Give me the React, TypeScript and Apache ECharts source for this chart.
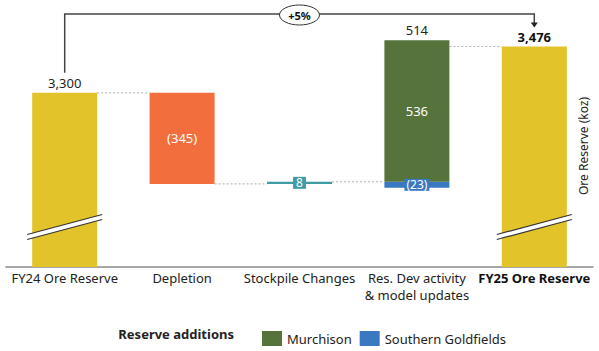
import React, { useEffect, useRef } from "react";
import * as echarts from "echarts";

const categories = [
  "FY24 Ore Reserve",
  "Depletion",
  "Stockpile Changes",
  "Res. Dev activity\n& model updates",
  "FY25 Ore Reserve",
];
const openingReserve = 3300;
const depletion = -345;
const stockpileChange = 8;
const murchisonAdd = 536;
const southernAdd = -23;
const resDevNetReported = 514;
const closingReserve = 3476;

const YELLOW = "#E3C32A";
const ORANGE = "#F26F3D";
const TEAL = "#3F9CA3";
const GREEN = "#55733A";
const BLUE = "#3A79C2";
const FONT = "'Noto Sans', sans-serif";

const fmt = (v: number) => {
  const s = Math.abs(v).toLocaleString("en-US");
  return v < 0 ? `(${s})` : s;
};

export default function App() {
  const ref = useRef<HTMLDivElement>(null);

  useEffect(() => {
    if (!ref.current) return;
    const chart = echarts.init(ref.current, null, { renderer: "svg" });

    const afterDepletion = openingReserve + depletion;
    const afterStockpile = afterDepletion + stockpileChange;
    const southernBase = afterStockpile + Math.min(southernAdd, 0);

    const base = [null, afterDepletion, afterDepletion, southernBase, null];
    const totals = [openingReserve, null, null, null, closingReserve];
    const dep = [null, -depletion, null, null, null];
    const stock = [null, null, stockpileChange, null, null];
    const south = [null, null, null, -southernAdd, null];
    const murch = [null, null, null, murchisonAdd, null];
    const netTop = [null, null, null, 0, null];

    const BW = 65;
    const yMin = 2640;
    const yMax = 3580;

    chart.setOption({
      animation: false,
      textStyle: { fontFamily: FONT },
      grid: { left: 6, right: 6, top: 19, bottom: 84 },
      xAxis: {
        type: "category",
        data: categories,
        axisTick: { show: false },
        axisLine: { lineStyle: { color: "#8a8a8a", width: 1.5 } },
        axisLabel: {
          interval: 0,
          margin: 2,
          color: "#222",
          fontSize: 13,
          lineHeight: 17,
          fontFamily: FONT,
          formatter: (v: string, i: number) => (i === 4 ? `{b|${v}}` : v),
          rich: { b: { fontWeight: "bold", fontSize: 13, lineHeight: 17, color: "#111", fontFamily: FONT } },
        },
      },
      yAxis: {
        type: "value",
        min: yMin,
        max: yMax,
        show: false,
        splitLine: { show: false },
      },
      legend: {
        data: ["Murchison", "Southern Goldfields"],
        left: 257,
        top: 326,
        itemWidth: 20,
        itemHeight: 15,
        itemGap: 8,
        icon: "rect",
        textStyle: { fontSize: 13, color: "#222", fontFamily: FONT },
      },
      series: [
        {
          name: "base",
          type: "bar",
          stack: "w",
          barWidth: BW,
          data: base,
          itemStyle: { color: "transparent" },
          silent: true,
        },
        {
          name: "Total",
          type: "bar",
          stack: "w",
          barWidth: BW,
          data: totals,
          itemStyle: { color: YELLOW },
          label: {
            show: true,
            position: "top",
            distance: 3,
            fontSize: 13,
            color: "#222",
            fontFamily: FONT,
            formatter: (p: any) => (p.dataIndex === 4 ? `{b|${fmt(p.value)}}` : fmt(p.value)),
            rich: { b: { fontWeight: "bold", fontSize: 13, color: "#111", fontFamily: FONT } },
          },
        },
        {
          name: "Depletion",
          type: "bar",
          stack: "w",
          barWidth: BW,
          data: dep,
          itemStyle: { color: ORANGE },
          label: {
            show: true,
            position: "inside",
            color: "#fff",
            fontSize: 13,
            formatter: () => fmt(depletion),
          },
        },
        {
          name: "Stockpile",
          type: "bar",
          stack: "w",
          barWidth: BW,
          data: stock,
          itemStyle: { color: TEAL },
          label: {
            show: true,
            position: "inside",
            color: "#fff",
            fontSize: 12,
            backgroundColor: TEAL,
            padding: [0, 3],
            formatter: () => fmt(stockpileChange),
          },
        },
        {
          name: "Southern Goldfields",
          type: "bar",
          stack: "w",
          barWidth: BW,
          data: south,
          itemStyle: { color: BLUE },
          label: {
            show: true,
            position: "inside",
            color: "#fff",
            fontSize: 12,
            backgroundColor: BLUE,
            padding: [0, 2],
            formatter: () => fmt(southernAdd),
          },
        },
        {
          name: "Murchison",
          type: "bar",
          stack: "w",
          barWidth: BW,
          data: murch,
          itemStyle: { color: GREEN },
          label: {
            show: true,
            position: "inside",
            color: "#fff",
            fontSize: 13,
            formatter: () => fmt(murchisonAdd),
          },
        },
        {
          name: "net",
          type: "bar",
          stack: "w",
          barWidth: BW,
          data: netTop,
          itemStyle: { color: "transparent" },
          label: {
            show: true,
            position: "top",
            distance: 4,
            fontSize: 13,
            color: "#222",
            formatter: () => fmt(resDevNetReported),
          },
        },
      ],
    });

    const px = (i: number, v: number) =>
      chart.convertToPixel({ gridIndex: 0 }, [i, v]) as number[];
    const half = BW / 2;
    const dotted = (i: number, v: number) => {
      const a = px(i, v);
      const b = px(i + 1, v);
      return {
        type: "line",
        z: 100,
        shape: { x1: a[0] + half, y1: a[1], x2: b[0] - half, y2: b[1] },
        style: { stroke: "#b0b0b0", lineWidth: 1, lineDash: [2, 2] },
        silent: true,
      };
    };
    const bottomY = px(0, yMin)[1];
    const breakMark = (i: number) => {
      const cx = px(i, yMin)[0];
      const cy = bottomY - 40;
      const w = half + 5;
      const dy = 10;
      const g = 2.5;
      return {
        type: "group",
        z: 100,
        children: [
          {
            type: "polygon",
            z: 100,
            shape: {
              points: [
                [cx - w, cy + dy - g],
                [cx + w, cy - dy - g],
                [cx + w, cy - dy + g],
                [cx - w, cy + dy + g],
              ],
            },
            style: { fill: "#fff" },
          },
          {
            type: "line",
            z: 101,
            shape: { x1: cx - w, y1: cy + dy - g, x2: cx + w, y2: cy - dy - g },
            style: { stroke: "#333", lineWidth: 1.2 },
          },
          {
            type: "line",
            z: 101,
            shape: { x1: cx - w, y1: cy + dy + g, x2: cx + w, y2: cy - dy + g },
            style: { stroke: "#333", lineWidth: 1.2 },
          },
        ],
      };
    };

    const p0 = px(0, openingReserve);
    const p4 = px(4, closingReserve);
    const topY = 14;
    const midX = (p0[0] + p4[0]) / 2;
    const arrowTip = p4[1] - 19;
    const pct = Math.round((closingReserve / openingReserve - 1) * 100);
    const lineStyle = { stroke: "#444", lineWidth: 1.5, fill: null };

    chart.setOption({
      graphic: [
        dotted(0, openingReserve),
        dotted(1, afterDepletion),
        dotted(2, afterStockpile),
        dotted(3, closingReserve),
        breakMark(0),
        breakMark(4),
        {
          type: "polyline",
          z: 100,
          shape: {
            points: [
              [p0[0], p0[1] - 20],
              [p0[0], topY],
              [p4[0], topY],
              [p4[0], arrowTip - 4],
            ],
          },
          style: lineStyle,
          silent: true,
        },
        {
          type: "polygon",
          z: 100,
          shape: {
            points: [
              [p4[0] - 3.5, arrowTip - 5],
              [p4[0] + 3.5, arrowTip - 5],
              [p4[0], arrowTip],
            ],
          },
          style: { fill: "#222" },
        },
        {
          type: "ellipse",
          z: 101,
          shape: { cx: midX, cy: 15, rx: 20, ry: 10 },
          style: { fill: "#fff", stroke: "#333", lineWidth: 1 },
        },
        {
          type: "text",
          z: 102,
          x: midX,
          y: 15,
          style: {
            text: `${pct >= 0 ? "+" : ""}${pct}%`,
            align: "center",
            verticalAlign: "middle",
            font: `bold 11px ${FONT}`,
            fill: "#111",
          },
        },
        {
          type: "text",
          z: 100,
          x: 583,
          y: 146,
          rotation: Math.PI / 2,
          style: {
            text: "Ore Reserve (koz)",
            align: "center",
            verticalAlign: "middle",
            font: `12px ${FONT}`,
            fill: "#222",
          },
        },
        {
          type: "text",
          z: 100,
          x: 234,
          y: 334,
          style: {
            text: "Reserve additions",
            align: "right",
            verticalAlign: "middle",
            font: `bold 13px ${FONT}`,
            fill: "#222",
          },
        },
      ],
    });

    return () => chart.dispose();
  }, []);

  return <div ref={ref} style={{ width: 599, height: 351, position: "absolute", left: 0, top: 0 }} />;
}
